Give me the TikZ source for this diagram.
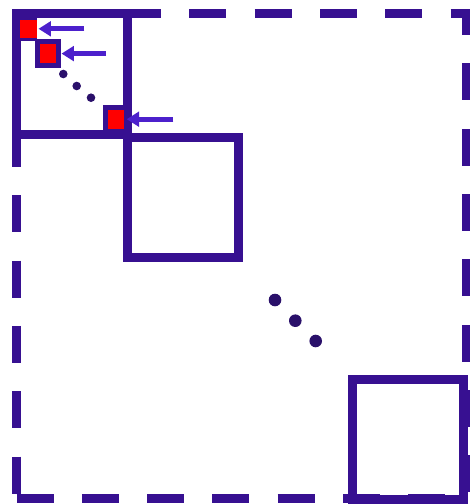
\documentclass[tikz,border=0pt]{standalone}
\usetikzlibrary{arrows.meta}
\definecolor{boxc}{RGB}{55,16,145}
\definecolor{arrc}{RGB}{76,32,204}
\definecolor{dotc}{RGB}{42,16,106}
\definecolor{redc}{RGB}{255,0,0}
\begin{document}
\begin{tikzpicture}[x=1pt,y=-1pt,
 outerline/.style={draw=boxc,line width=9pt,dash pattern=on 37pt off 28.3pt},
 blockbox/.style={draw=boxc,line width=9pt,inner sep=0pt},
 redsq/.style={draw=boxc,fill=redc,line width=5pt,minimum width=21.6pt,minimum height=24.3pt,inner sep=0pt},
 redfill/.style={fill=redc,inner sep=0pt},
 pointer/.style={draw=arrc,line width=5pt,-{Triangle[length=12.3pt,width=14.5pt]}},
 bigdot/.style={circle,fill=dotc,inner sep=0pt,minimum size=12.6pt},
 smalldot/.style={circle,fill=dotc,inner sep=0pt,minimum size=8.6pt}]
\useasboundingbox (0,0) rectangle (470,504);
% outer dashed frame
\draw[outerline,dash phase=23pt] (16.5,13.5) -- (471,13.5);
\draw[outerline,dash phase=14.1pt] (16.5,13.5) -- (16.5,498);
\draw[outerline,dash phase=0pt] (16.5,498) -- (471,498);
\draw[outerline,dash phase=15.5pt] (466.5,13.5) -- (466.5,498);
% blocks
\node[blockbox,minimum width=111pt,minimum height=121pt] (blk1) at (72,74) {};
\node[blockbox,minimum width=111.4pt,minimum height=120.2pt] (blk2) at (183,197.4) {};
\node[blockbox,minimum width=111pt,minimum height=120pt] (blk3) at (407.5,439) {};
% small red squares
\fill[boxc] (12,17) rectangle (36.7,41);
\node[redfill,minimum width=16.7pt,minimum height=18.3pt] (sq1) at (28.35,29.15) {};
\node[redsq] (sq2) at (48.15,53.8) {};
\node[redsq] (sq3) at (116,119.65) {};
% small dots
\node[smalldot] (s1) at (63.3,74) {};
\node[smalldot] (s2) at (76.7,86) {};
\node[smalldot] (s3) at (91,97.7) {};
% big dots
\node[bigdot] (b1) at (275,300) {};
\node[bigdot] (b2) at (295.3,320.7) {};
\node[bigdot] (b3) at (315.7,341) {};
% arrows
\coordinate (t1) at (84.3,28.8);
\coordinate (h1) at (38.5,28.8);
\coordinate (t2) at (106,53.6);
\coordinate (h2) at (61.5,53.6);
\coordinate (t3) at (173.3,119.2);
\coordinate (h3) at (126.7,119.2);
\draw[pointer] (t1) -- (h1);
\draw[pointer] (t2) -- (h2);
\draw[pointer] (t3) -- (h3);
\end{tikzpicture}
\end{document}
